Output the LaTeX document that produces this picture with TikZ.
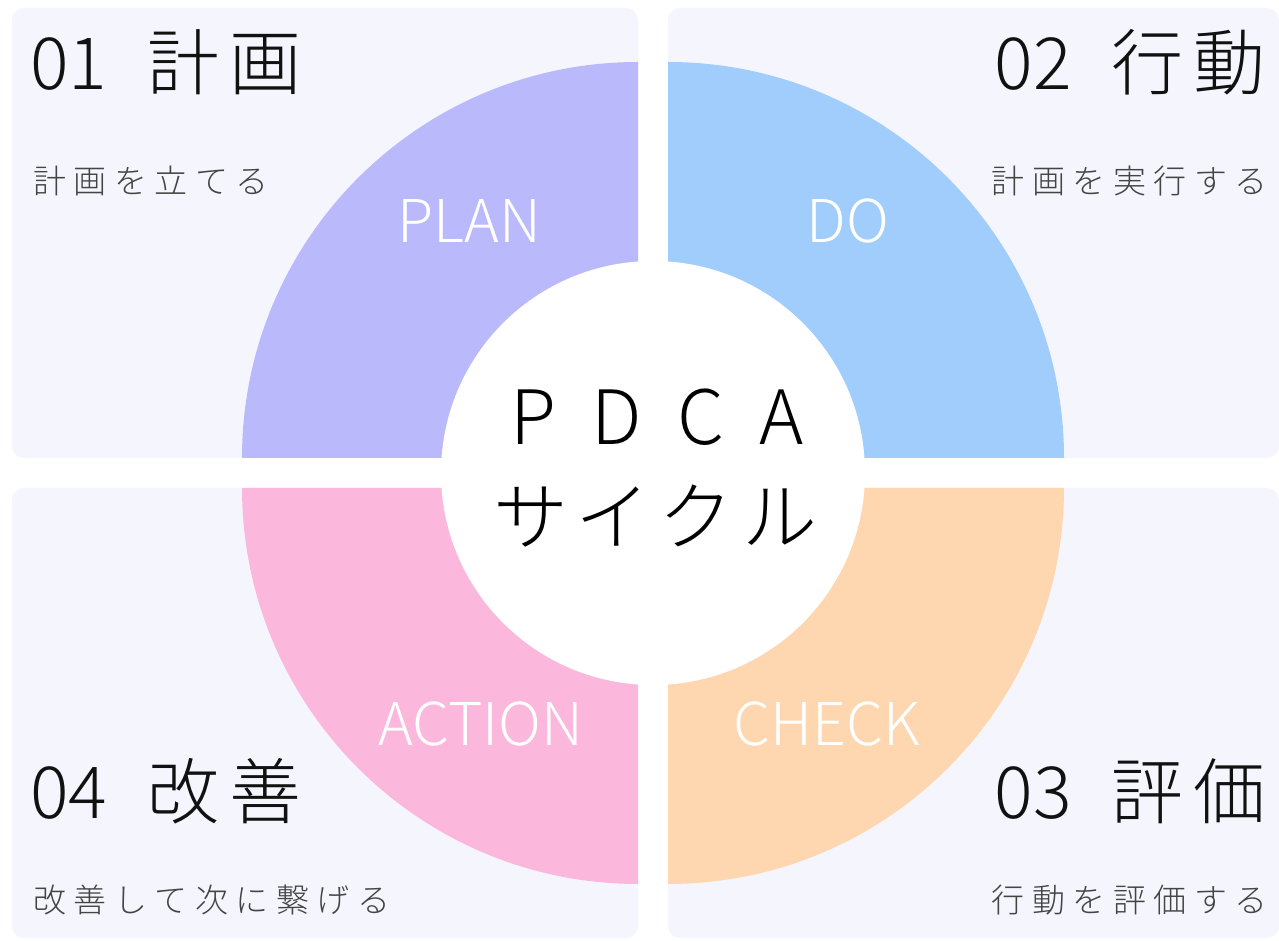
\documentclass[tikz,border=0pt]{standalone}
\usepackage{fontspec}
\IfFontExistsTF{Noto Sans CJK JP Light}{\setmainfont{Noto Sans CJK JP Light}}{\setmainfont{Noto Sans CJK JP}}
\definecolor{panelbg}{HTML}{F5F6FD}
\definecolor{plancol}{HTML}{BAB9FB}
\definecolor{docol}{HTML}{A0CDFB}
\definecolor{checkcol}{HTML}{FED6AF}
\definecolor{actioncol}{HTML}{FBB8DC}
\definecolor{titlecol}{HTML}{111111}
\definecolor{subcol}{HTML}{444444}
\long\def\mygob#1{}
\long\def\myfirst#1{#1}
\newdimen\trkamt
\def\trk#1#2{\trkamt=#1\relax\trkA#2\relax}
\def\trkA#1#2{#1\ifx\relax#2\expandafter\mygob\else\kern\trkamt\expandafter\myfirst\fi{\trkA#2}}
\tikzset{
  panel/.style={fill=panelbg, rounded corners=12pt},
  ttl/.style={inner sep=0pt, font=\fontsize{72}{80}\selectfont, text=titlecol},
  subtxt/.style={inner sep=0pt, font=\fontsize{33}{36}\selectfont, text=subcol},
  seclab/.style={inner sep=0pt, font=\fontsize{59}{64}\selectfont, text=white, anchor=base},
  ctrtxt/.style={inner sep=0pt, font=\fontsize{75}{80}\selectfont, text=black, anchor=base},
}
\begin{document}
\begin{tikzpicture}[x=1pt,y=1pt]
\useasboundingbox (0,0) rectangle (1279,940);
\fill[white] (0,0) rectangle (1279,940);
% panels
\fill[panel] (12,482) rectangle (638,932);
\fill[panel] (668,482) rectangle (1279,932);
\fill[panel] (12,2) rectangle (638,452);
\fill[panel] (668,2) rectangle (1279,452);
% sectors
\fill[plancol] (638,482) -- (242,482) arc[start angle=180, end angle=90, radius=396pt] -- cycle;
\fill[docol] (668,482) -- (1064,482) arc[start angle=0, end angle=90, radius=396pt] -- cycle;
\fill[checkcol] (668,452) -- (1064,452) arc[start angle=0, end angle=-90, radius=396pt] -- cycle;
\fill[actioncol] (638,452) -- (242,452) arc[start angle=180, end angle=270, radius=396pt] -- cycle;
\fill[white] (653,467) circle[radius=212pt];
% titles
\node[ttl, anchor=base west] (t1) at (30,850) {01\kern 40pt\trk{10pt}{計画}};
\node[ttl, anchor=base east] (t2) at (1266,850) {02\kern 40pt\trk{10pt}{行動}};
\node[ttl, anchor=base east] (t3) at (1266,122) {03\kern 40pt\trk{10pt}{評価}};
\node[ttl, anchor=base west] (t4) at (30,122) {04\kern 40pt\trk{10pt}{改善}};
% subtitles
\node[subtxt, anchor=base west] (s1) at (33,746) {\trk{7.5pt}{計画を立てる}};
\node[subtxt, anchor=base east] (s2) at (1268,746) {\trk{7.5pt}{計画を実行する}};
\node[subtxt, anchor=base east] (s3) at (1268,28) {\trk{7.5pt}{行動を評価する}};
\node[subtxt, anchor=base west] (s4) at (33,28) {\trk{7.5pt}{改善して次に繋げる}};
% sector labels
\node[seclab] (lplan) at (469,697) {PLAN};
\node[seclab] (ldo) at (848,697) {DO};
\node[seclab] (lcheck) at (827,195) {CHECK};
\node[seclab] (laction) at (481,195) {ACTION};
% centre
\node[ctrtxt] (c1) at (657,495) {\trk{35pt}{PDCA}};
\node[ctrtxt] (c2) at (655,395) {\trk{8pt}{サイクル}};
\end{tikzpicture}
\end{document}
